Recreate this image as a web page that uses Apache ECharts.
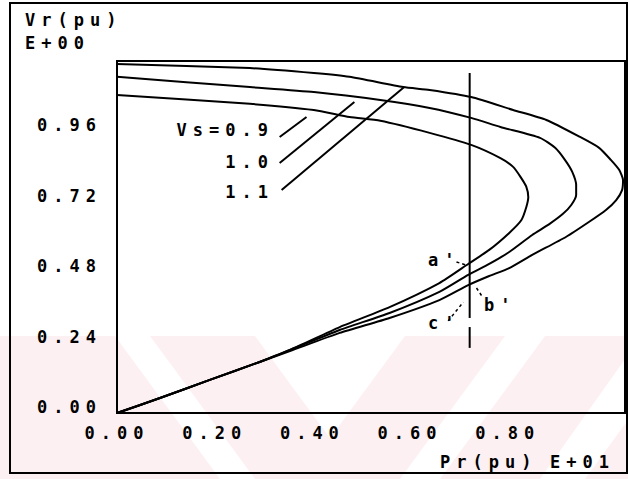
<!DOCTYPE html>
<html>
<head>
<meta charset="utf-8">
<script src="https://cdn.jsdelivr.net/npm/echarts@6/dist/echarts.min.js"></script>
<style>
html, body { margin: 0; padding: 0; background: #fff; }
#main { width: 628px; height: 479px; }
/* plotter text is widely spaced */
#main text { letter-spacing: 6px; }
</style>
</head>
<body>
<div id="main"></div>
<script>
// Pr (pu, E+01) / Vr (pu) traced round each nose: upper branch, nose, lower branch
const vs09P = [0, 0.272, 0.403, 0.476, 0.539, 0.640, 0.725, 0.785, 0.811, 0.826, 0.838, 0.842, 0.838, 0.828, 0.803, 0.762, 0.719, 0.660, 0.558, 0.456, 0.354, 0.292, 0.190, 0.088, 0];
const vs09V = [1.084, 1.054, 1.033, 1.009, 0.996, 0.955, 0.914, 0.869, 0.839, 0.805, 0.771, 0.736, 0.702, 0.658, 0.614, 0.556, 0.508, 0.443, 0.361, 0.293, 0.215, 0.174, 0.113, 0.051, 0];

const vs10P = [0, 0.272, 0.403, 0.539, 0.640, 0.725, 0.785, 0.866, 0.897, 0.917, 0.932, 0.940, 0.940, 0.930, 0.913, 0.885, 0.850, 0.803, 0.762, 0.719, 0.660, 0.558, 0.456, 0.354, 0.292, 0.190, 0.088, 0];
const vs10V = [1.146, 1.111, 1.094, 1.067, 1.040, 1.006, 0.975, 0.938, 0.904, 0.863, 0.822, 0.777, 0.743, 0.709, 0.679, 0.644, 0.607, 0.549, 0.508, 0.471, 0.413, 0.341, 0.283, 0.215, 0.174, 0.113, 0.051, 0];

const vs11P = [0, 0.272, 0.403, 0.476, 0.586, 0.640, 0.725, 0.811, 0.879, 0.948, 0.987, 1.011, 1.028, 1.036, 1.034, 1.022, 1.001, 0.966, 0.919, 0.850, 0.803, 0.762, 0.719, 0.660, 0.558, 0.456, 0.354, 0.292, 0.190, 0.088, 0];
const vs11V = [1.190, 1.176, 1.159, 1.146, 1.111, 1.101, 1.077, 1.033, 0.999, 0.941, 0.904, 0.863, 0.829, 0.794, 0.760, 0.726, 0.692, 0.651, 0.600, 0.539, 0.494, 0.467, 0.436, 0.385, 0.324, 0.273, 0.211, 0.174, 0.113, 0.051, 0];

// operating line Pr = const, drawn in two pieces (gap near c')
const opP = 0.722;
const opUpperV = [1.159, 0.324];
const opLowerV = [0.293, 0.222];

// leader lines for the Vs labels, [P, V] ends
const lead09 = [[0.333, 0.941], [0.388, 1.009]];
const lead10 = [[0.333, 0.852], [0.486, 1.060]];
const lead11 = [[0.337, 0.760], [0.588, 1.111]];
// short dashed pointers for a', b', c'
const leadA = [[0.695, 0.515], [0.717, 0.503]];
const leadB = [[0.736, 0.426], [0.748, 0.396]];
const leadC = [[0.678, 0.314], [0.709, 0.378]];

const xTicks = ['0.00', '0.20', '0.40', '0.60', '0.80'];
const yTicks = ['0.00', '0.24', '0.48', '0.72', '0.96'];

const zip = (a, b) => a.map((v, i) => [v, b[i]]);

const font = 'DejaVu Sans Mono';
const txt = (text, x, y, align) => ({
  type: 'text', x: x, y: y, z: 10,
  style: { text: text, fill: '#000', font: 'bold 17px "' + font + '"', textAlign: align || 'left', textVerticalAlign: 'middle' }
});
const pink = '#fdf0f2';
const band = (pts) => ({ type: 'polygon', z: -10, silent: true, shape: { points: pts }, style: { fill: pink } });

const curve = (data) => ({
  type: 'line', data: data, symbol: 'none', smooth: 0.2,
  lineStyle: { color: '#000', width: 2 }, z: 5
});
const seg = (data, width, dashed) => ({
  type: 'line', data: data, symbol: 'none',
  lineStyle: { color: '#000', width: width, type: dashed ? [3, 3] : 'solid' }, z: 5
});

const chart = echarts.init(document.getElementById('main'), null, { renderer: 'svg' });

chart.setOption({
  backgroundColor: '#fff',
  animation: false,
  grid: { left: 117, top: 61, right: 2, bottom: 66, show: true, borderColor: '#000', borderWidth: 2 },
  xAxis: {
    type: 'value', min: 0, max: 1.04, interval: 0.2,
    axisLine: { show: true, lineStyle: { color: '#000', width: 2 } },
    axisTick: { show: false },
    splitLine: { show: false },
    axisLabel: {
      color: '#000', fontFamily: font, fontWeight: 'bold', fontSize: 17, margin: 11,
      formatter: v => xTicks[Math.round(v / 0.2)] || ''
    }
  },
  yAxis: {
    type: 'value', min: 0, max: 1.2, interval: 0.24,
    axisLine: { show: true, lineStyle: { color: '#000', width: 2 } },
    axisTick: { show: false },
    splitLine: { show: false },
    axisLabel: {
      color: '#000', fontFamily: font, fontWeight: 'bold', fontSize: 17, margin: 15,
      verticalAlign: 'bottom', lineHeight: 12,
      formatter: v => yTicks[Math.round(v / 0.24)] || ''
    }
  },
  graphic: [
    band([[0, 336], [115, 336], [220, 479], [0, 479]]),
    band([[150, 336], [255, 336], [360, 479], [255, 479]]),
    band([[300, 479], [400, 479], [505, 336], [405, 336]]),
    band([[440, 479], [540, 479], [628, 355], [628, 336], [545, 336]]),
    band([[585, 479], [628, 479], [628, 420]]),
    { type: 'rect', z: 10, shape: { x: 10, y: 3, width: 617, height: 470 }, style: { fill: 'none', stroke: '#000', lineWidth: 2 } },
    txt('Vr(pu)', 25, 20),
    txt('E+00', 25, 43),
    txt('Vs=0.9', 274, 130, 'right'),
    txt('1.0', 274, 162, 'right'),
    txt('1.1', 274, 192, 'right'),
    txt("a'", 428, 260),
    txt("b'", 484, 305),
    txt("c'", 428, 323),
    txt('Pr(pu)', 440, 462),
    txt('E+01', 550, 462)
  ],
  series: [
    curve(zip(vs09P, vs09V)),
    curve(zip(vs10P, vs10V)),
    curve(zip(vs11P, vs11V)),
    seg(opUpperV.map(v => [opP, v]), 2),
    seg(opLowerV.map(v => [opP, v]), 2),
    seg(lead09, 2),
    seg(lead10, 2),
    seg(lead11, 2),
    seg(leadA, 1.5, true),
    seg(leadB, 1.5, true),
    seg(leadC, 1.5, true)
  ]
});
</script>
</body>
</html>
